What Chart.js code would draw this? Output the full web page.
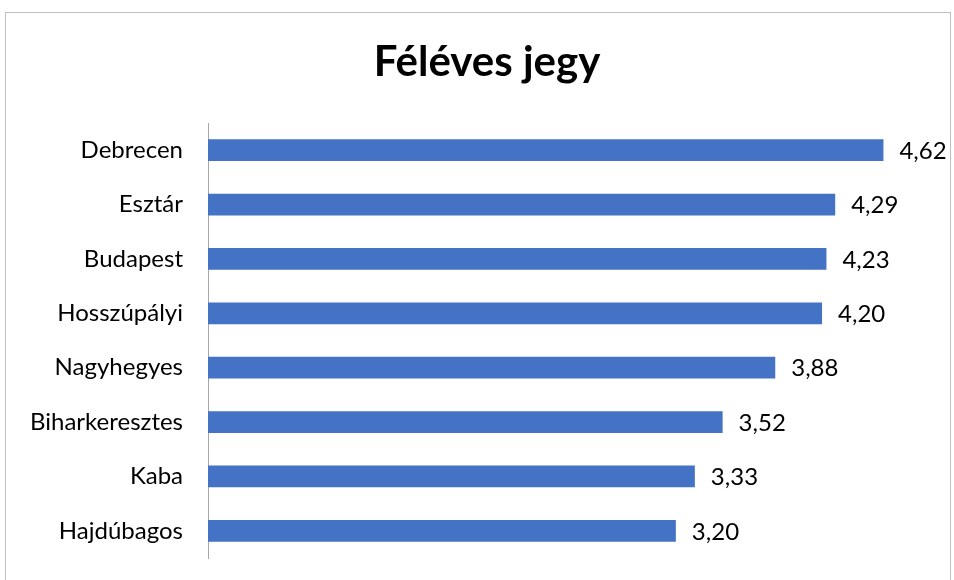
<!DOCTYPE html>
<html>
<head>
<meta charset="utf-8">
<script src="https://cdn.jsdelivr.net/npm/chart.js@4.4.1/dist/chart.umd.min.js"></script>
<style>
  html, body { margin: 0; padding: 0; background: #fff; }
  #wrap { position: relative; width: 954px; height: 580px; overflow: hidden; }
  #frame { position: absolute; left: 5px; top: 12px; width: 946px; height: 600px; border: 1px solid #bfbfbf; box-sizing: border-box; }
  canvas { position: absolute; left: 0; top: 0; }
</style>
</head>
<body>
<div id="wrap">
  <div id="frame"></div>
  <canvas id="myChart" width="954" height="580"></canvas>
</div>
<script>
const titleText = 'Féléves jegy'
const varosok = ['Debrecen', 'Esztár', 'Budapest', 'Hosszúpályi', 'Nagyhegyes', 'Biharkeresztes', 'Kaba', 'Hajdúbagos']
const jegyek = [4.62, 4.29, 4.23, 4.20, 3.88, 3.52, 3.33, 3.20]
const fontFamily = 'Lato, "Open Sans", sans-serif'

// chart title, drawn a bit right of the canvas centre like the original
const cim = {
    id: 'cim',
    afterDraw(chart) {
        const ctx = chart.ctx
        ctx.save()
        ctx.font = 'bold 42px ' + fontFamily
        ctx.fillStyle = '#000'
        ctx.textAlign = 'center'
        ctx.textBaseline = 'alphabetic'
        ctx.fillText(titleText, 487, 76)
        ctx.restore()
    }
}

// value labels at the end of every bar, Hungarian decimal comma
const ertekCimkek = {
    id: 'ertekCimkek',
    afterDatasetsDraw(chart) {
        const ctx = chart.ctx
        const meta = chart.getDatasetMeta(0)
        ctx.save()
        ctx.font = '24px ' + fontFamily
        ctx.fillStyle = '#000'
        ctx.textBaseline = 'middle'
        ctx.textAlign = 'left'
        meta.data.forEach((bar, i) => {
            const txt = jegyek[i].toFixed(2).replace('.', ',')
            ctx.fillText(txt, bar.x + 16, bar.y + 1)
        })
        ctx.restore()
    }
}

const ctx = document.getElementById('myChart')

new Chart(ctx, {
    type: 'bar',
    data: {
        labels: varosok,
        datasets: [{
            data: jegyek,
            backgroundColor: '#4472C4',
            borderWidth: 0,
            barPercentage: 0.4,
            categoryPercentage: 1
        }]
    },
    options: {
        indexAxis: 'y',
        responsive: false,
        animation: false,
        layout: { padding: { left: 0, right: 15, top: 123, bottom: 22 } },
        plugins: {
            legend: { display: false },
            tooltip: { enabled: false },
            title: { display: false }
        },
        scales: {
            x: { display: false, min: 0, max: 5 },
            y: {
                afterFit: (scale) => {
                    scale.width = 208
                    // labels sit inside the categories, no extra room needed
                    scale.paddingTop = 0
                    scale.paddingBottom = 0
                },
                grid: { display: false, drawTicks: false },
                border: { display: true, color: '#a6a6a6', width: 1 },
                ticks: {
                    color: '#000',
                    padding: 25,
                    font: { family: fontFamily, size: 24 }
                }
            }
        }
    },
    plugins: [ertekCimkek, cim]
})
</script>
</body>
</html>
